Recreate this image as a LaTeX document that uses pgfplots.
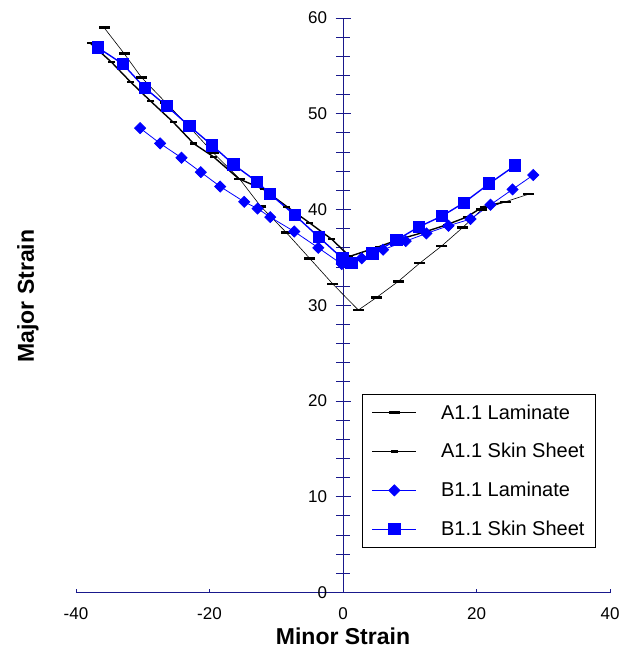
\documentclass[border=0pt]{standalone}
\usepackage{fontspec}
\setmainfont{Liberation Sans}
\usepackage{pgfplots}
\pgfplotsset{compat=1.18}
\definecolor{axnavy}{RGB}{25,25,140}
\definecolor{pblue}{RGB}{0,0,255}
\begin{document}
\begin{tikzpicture}
\begin{axis}[
  scale only axis, width=534pt, height=574.5pt,
  xmin=-40, xmax=40, ymin=0, ymax=60,
  axis x line=middle, axis y line=middle,
  hide obscured x ticks=false, hide obscured y ticks=false,
  axis line style={-, draw=axnavy, line width=0.8pt},
  xtick={-40,-20,0,20,40}, ytick={0,10,20,30,40,50,60},
  minor y tick num=4,
  xtick align=inside, ytick align=center,
  major tick length=15pt, minor tick length=14pt,
  xtick style={draw=axnavy, line width=0.8pt, /pgfplots/major tick length=4pt},
  ytick style={draw=axnavy, line width=0.8pt},
  minor tick style={draw=axnavy, line width=0.8pt},
  /pgf/number format/assume math mode=true,
  tick label style={font=\fontsize{17}{20}\selectfont, black},
  xticklabel style={yshift=-12pt},
  yticklabel style={xshift=-5pt},
  xlabel={\textbf{Minor Strain}},
  ylabel={\textbf{Major Strain}},
  xlabel style={at={(axis description cs:0.5,-0.076)}, anchor=center, font=\fontsize{23}{27}\selectfont},
  ylabel style={at={(axis description cs:-0.09,0.516)}, anchor=center, rotate=90, font=\fontsize{23}{27}\selectfont},
  legend image code/.code={\draw[mark repeat=2,mark phase=2,#1] plot coordinates {(0pt,0pt) (22pt,0pt) (44pt,0pt)};},
  legend style={at={(axis cs:2.9,20.7)}, anchor=north west, draw=black, line width=0.6pt,
    font=\fontsize{20}{24}\selectfont, row sep=18.9pt, inner xsep=9pt, inner ysep=8pt,
    cells={anchor=west}, /tikz/every odd column/.append style={column sep=22pt}},
  clip=false,
]
\coordinate (bl) at (rel axis cs:0,0);
\addplot[black, line width=0.6pt, mark=-, mark size=5.5pt, mark options={line width=2.6pt}] coordinates {
(-35.8,59.0) (-32.8,56.3) (-30.2,53.8) (-26.6,51.2) (-23.0,48.6) (-19.4,45.9) (-15.5,43.2)
(-12.3,40.3) (-8.5,37.6) (-5.0,34.9) (-1.5,32.2) (2.3,29.5) (5.0,30.8) (8.3,32.5)
(11.5,34.4) (14.8,36.2) (17.9,38.1) (20.8,40.0) (24.3,40.8) (27.8,41.6)};
\addlegendentry{A1.1 Laminate}
\addplot[black, line width=1.4pt, mark=-, mark size=3.5pt, mark options={line width=2.2pt}] coordinates {
(-37.9,57.4) (-34.7,55.4) (-31.8,53.3) (-28.8,51.3) (-25.4,49.1) (-22.4,46.9) (-19.4,45.5)
(-15.6,43.2) (-11.9,42.1) (-8.4,40.3) (-5.0,38.6) (-1.7,36.9) (1.0,35.1) (5.3,36.1)
(8.5,36.9) (12.0,37.6) (15.5,38.4) (18.5,39.2) (21.0,40.3) (24.3,40.8)};
\addlegendentry{A1.1 Skin Sheet}
\addplot[pblue, line width=0.8pt, mark=square*, mark size=3.9pt, mark options={rotate=45, fill=pblue, draw=pblue}] coordinates {
(-30.4,48.5) (-27.4,46.9) (-24.2,45.4) (-21.3,43.9) (-18.4,42.4) (-14.8,40.8) (-12.8,40.1)
(-10.9,39.2) (-7.3,37.7) (-3.7,36.0) (-0.2,34.3) (2.8,34.9) (6.0,35.8) (9.4,36.7)
(12.5,37.5) (15.8,38.3) (19.1,39.0) (22.1,40.5) (25.4,42.1) (28.5,43.6)};
\addlegendentry{B1.1 Laminate}
\addplot[pblue, line width=1.4pt, mark=square*, mark size=5.5pt, mark options={fill=pblue, draw=pblue}] coordinates {
(-36.7,56.9) (-33.0,55.2) (-29.7,52.7) (-26.4,50.8) (-23.0,48.7) (-19.6,46.7) (-16.4,44.7)
(-12.9,42.9) (-10.9,41.6) (-7.2,39.4) (-3.6,37.1) (-0.1,34.9) (1.3,34.4) (4.4,35.4)
(8.0,36.8) (11.4,38.2) (14.8,39.3) (18.1,40.7) (21.9,42.7) (25.8,44.6)};
\addlegendentry{B1.1 Skin Sheet}
\end{axis}
\pgfresetboundingbox
\path[shift={(bl)}] (-76pt,-62.5pt) rectangle (564pt,592.5pt);
\end{tikzpicture}
\end{document}
